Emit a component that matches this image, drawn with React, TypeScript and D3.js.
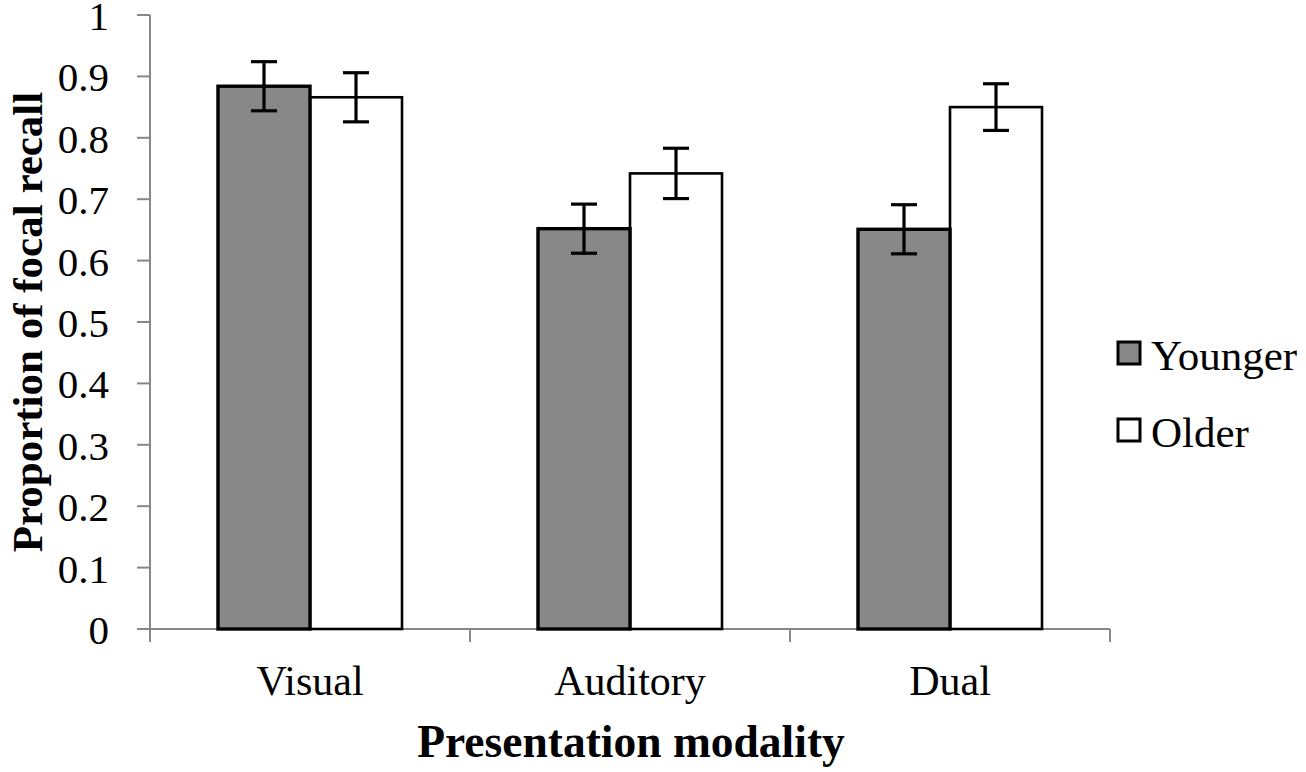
import React from 'react';
import * as d3 from 'd3';

const categories = ['Visual', 'Auditory', 'Dual'];
const seriesNames = ['Younger', 'Older'];
const younger = [0.884, 0.652, 0.651];
const older = [0.866, 0.742, 0.85];
const youngerErr = [0.04, 0.04, 0.04];
const olderErr = [0.04, 0.041, 0.038];
const yTicks = [0, 0.1, 0.2, 0.3, 0.4, 0.5, 0.6, 0.7, 0.8, 0.9, 1];

const width = 1306;
const height = 772;
const margin = { top: 15, right: 196, bottom: 143, left: 150 };
const font = '"Liberation Serif", "DejaVu Serif", serif';
const axisColor = '#878787';
const fills = ['#888888', '#ffffff'];

const App: React.FC = () => {
  const plotW = width - margin.left - margin.right;

  const x = d3
    .scaleBand<string>()
    .domain(categories)
    .range([margin.left, margin.left + plotW])
    .paddingInner(0.425)
    .paddingOuter(0.2125);

  const xInner = d3.scaleBand<string>().domain(seriesNames).range([0, x.bandwidth()]);

  const y = d3
    .scaleLinear()
    .domain([0, 1])
    .range([height - margin.bottom, margin.top]);

  const step = x.step();
  const catEdges = d3.range(categories.length + 1).map((i) => margin.left + i * step);

  const series = [
    { name: 'Older', values: older, errs: olderErr, fill: fills[1], sw: 2.6 },
    { name: 'Younger', values: younger, errs: youngerErr, fill: fills[0], sw: 3.4 },
  ];

  return (
    <svg width={width} height={height} style={{ position: 'absolute', left: 0, top: 0, background: '#fff' }}>
      {/* y axis */}
      <line x1={margin.left} x2={margin.left} y1={y(1)} y2={y(0)} stroke={axisColor} strokeWidth={2} />
      {yTicks.map((t) => (
        <g key={`yt-${t}`}>
          <line x1={margin.left - 13} x2={margin.left} y1={y(t)} y2={y(t)} stroke={axisColor} strokeWidth={2} />
          <text x={109} y={y(t) + 15} textAnchor="end" fontFamily={font} fontSize={41} fill="#000">
            {d3.format('')(t)}
          </text>
        </g>
      ))}

      {/* x axis */}
      <line x1={margin.left} x2={margin.left + plotW} y1={y(0)} y2={y(0)} stroke={axisColor} strokeWidth={2} />
      {catEdges.map((e) => (
        <line key={`xt-${e}`} x1={e} x2={e} y1={y(0)} y2={y(0) + 13} stroke={axisColor} strokeWidth={2} />
      ))}

      {/* bars */}
      {series.map((s) =>
        categories.map((c, i) => {
          const bx = (x(c) ?? 0) + (xInner(s.name) ?? 0);
          const bw = xInner.bandwidth();
          const top = y(s.values[i]);
          return (
            <rect
              key={`bar-${s.name}-${c}`}
              x={bx}
              y={top}
              width={bw}
              height={y(0) - top}
              fill={s.fill}
              stroke="#000"
              strokeWidth={s.sw}
            />
          );
        })
      )}

      {/* error bars */}
      {series.map((s) =>
        categories.map((c, i) => {
          const cx = (x(c) ?? 0) + (xInner(s.name) ?? 0) + xInner.bandwidth() / 2;
          const hi = y(s.values[i] + s.errs[i]);
          const lo = y(s.values[i] - s.errs[i]);
          return (
            <g key={`err-${s.name}-${c}`} stroke="#000" strokeWidth={3.2}>
              <line x1={cx} x2={cx} y1={hi} y2={lo} />
              <line x1={cx - 13} x2={cx + 13} y1={hi} y2={hi} />
              <line x1={cx - 13} x2={cx + 13} y1={lo} y2={lo} />
            </g>
          );
        })
      )}

      {/* category labels */}
      {categories.map((c) => (
        <text
          key={`cl-${c}`}
          x={(x(c) ?? 0) + x.bandwidth() / 2}
          y={695}
          textAnchor="middle"
          fontFamily={font}
          fontSize={42}
          fill="#000"
        >
          {c}
        </text>
      ))}

      {/* axis titles */}
      <text x={631} y={757} textAnchor="middle" fontFamily={font} fontSize={45.5} fontWeight="bold" fill="#000">
        Presentation modality
      </text>
      <text
        transform={`translate(42, ${(y(0) + y(1)) / 2}) rotate(-90)`}
        textAnchor="middle"
        fontFamily={font}
        fontSize={43}
        fontWeight="bold"
        fill="#000"
      >
        Proportion of focal recall
      </text>

      {/* legend */}
      {[
        { label: seriesNames[0], fill: fills[0], y: 353 },
        { label: seriesNames[1], fill: fills[1], y: 430 },
      ].map((l) => (
        <g key={`lg-${l.label}`}>
          <rect x={1118} y={l.y - 11} width={22} height={22} fill={l.fill} stroke="#000" strokeWidth={3} />
          <text x={1151} y={l.y + 17} fontFamily={font} fontSize={43} fill="#000">
            {l.label}
          </text>
        </g>
      ))}
    </svg>
  );
};

export default App;
